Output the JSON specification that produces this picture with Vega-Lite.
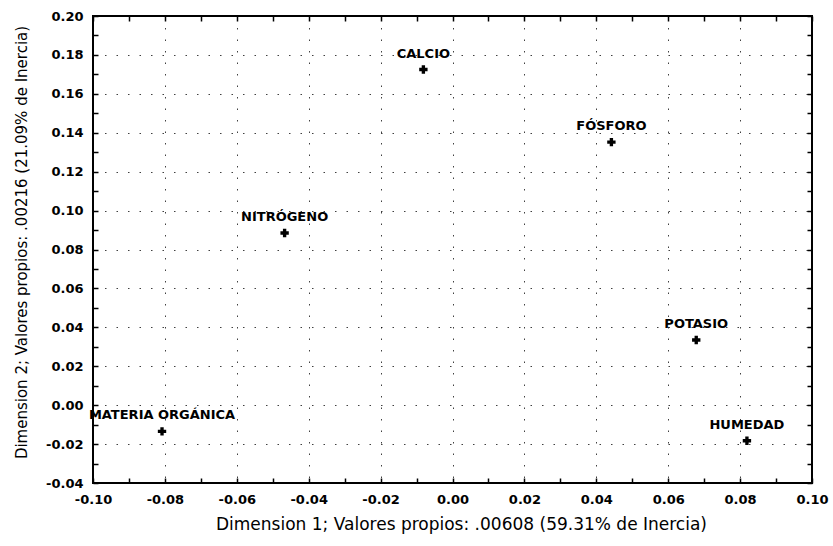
{
  "$schema": "https://vega.github.io/schema/vega-lite/v6.json",
  "autosize": {"type": "none"},
  "width": 719,
  "height": 467,
  "padding": {"left": 93, "top": 16, "right": 21, "bottom": 63},
  "background": "white",
  "config": {
    "view": {"stroke": "black", "strokeWidth": 2},
    "font": "DejaVu Sans"
  },
  "data": {
    "values": [
      {"variable": "CALCIO", "dim1": -0.0081, "dim2": 0.1725},
      {"variable": "FÓSFORO", "dim1": 0.0442, "dim2": 0.1352},
      {"variable": "NITRÓGENO", "dim1": -0.0467, "dim2": 0.0885},
      {"variable": "MATERIA ORGÁNICA", "dim1": -0.0808, "dim2": -0.0135},
      {"variable": "POTASIO", "dim1": 0.0678, "dim2": 0.0335},
      {"variable": "HUMEDAD", "dim1": 0.0819, "dim2": -0.0183}
    ]
  },
  "resolve": {"axis": {"x": "independent", "y": "independent"}},
  "layer": [
    {
      "mark": {"type": "point", "shape": "cross", "filled": true, "color": "black", "size": 70, "opacity": 1},
      "encoding": {
        "x": {
          "field": "dim1", "type": "quantitative",
          "scale": {"domain": [-0.1, 0.1], "nice": false, "zero": false},
          "axis": {
            "orient": "bottom",
            "title": "Dimension 1; Valores propios: .00608 (59.31% de Inercia)",
            "titleFont": "DejaVu Sans", "titleFontSize": 17, "titleFontWeight": "normal", "titleColor": "black",
            "titlePadding": 10, "titleX": 368,
            "values": [-0.1, -0.09, -0.08, -0.07, -0.06, -0.05, -0.04, -0.03, -0.02, -0.01, 0, 0.01, 0.02, 0.03, 0.04, 0.05, 0.06, 0.07, 0.08, 0.09, 0.1],
            "labelExpr": "abs(round(datum.value*100)) % 2 == 0 ? replace(format(datum.value, '.2f'), '−', '-') : ''",
            "labelFont": "DejaVu Sans", "labelFontSize": 13, "labelFontWeight": "bold", "labelColor": "black",
            "labelPadding": 15, "labelFlush": false, "labelOverlap": false,
            "ticks": true, "tickSize": -5, "tickColor": "black", "tickWidth": 1.5,
            "domain": false,
            "grid": true, "gridColor": "black", "gridDash": [1.5, 10], "gridWidth": 1,
            "gridOpacity": {"condition": {"test": "abs(round(datum.value*100)) % 2 == 0", "value": 0.75}, "value": 0}
          }
        },
        "y": {
          "field": "dim2", "type": "quantitative",
          "scale": {"domain": [-0.04, 0.2], "nice": false, "zero": false},
          "axis": {
            "orient": "left",
            "title": "Dimension 2; Valores propios: .00216 (21.09% de Inercia)",
            "titleFont": "DejaVu Sans", "titleFontSize": 15, "titleFontWeight": "normal", "titleColor": "black",
            "titlePadding": 16, "titleY": 226,
            "values": [-0.04, -0.03, -0.02, -0.01, 0, 0.01, 0.02, 0.03, 0.04, 0.05, 0.06, 0.07, 0.08, 0.09, 0.1, 0.11, 0.12, 0.13, 0.14, 0.15, 0.16, 0.17, 0.18, 0.19, 0.2],
            "labelExpr": "abs(round(datum.value*100)) % 2 == 0 ? replace(format(datum.value, '.2f'), '−', '-') : ''",
            "labelFont": "DejaVu Sans", "labelFontSize": 13, "labelFontWeight": "bold", "labelColor": "black",
            "labelPadding": 15, "labelFlush": false, "labelOverlap": false,
            "ticks": true, "tickSize": -5, "tickColor": "black", "tickWidth": 1.5,
            "domain": false,
            "grid": true, "gridColor": "black", "gridDash": [1.5, 10], "gridWidth": 1,
            "gridOpacity": {"condition": {"test": "abs(round(datum.value*100)) % 2 == 0", "value": 0.75}, "value": 0}
          }
        }
      }
    },
    {
      "mark": {"type": "text", "dy": -16, "align": "center", "baseline": "middle", "font": "DejaVu Sans", "fontWeight": "bold", "fontSize": 13, "color": "black"},
      "encoding": {
        "x": {
          "field": "dim1", "type": "quantitative",
          "scale": {"domain": [-0.1, 0.1], "nice": false, "zero": false},
          "axis": {
            "orient": "top", "title": null, "labels": false, "domain": false, "grid": false,
            "values": [-0.1, -0.09, -0.08, -0.07, -0.06, -0.05, -0.04, -0.03, -0.02, -0.01, 0, 0.01, 0.02, 0.03, 0.04, 0.05, 0.06, 0.07, 0.08, 0.09, 0.1],
            "ticks": true, "tickSize": -5, "tickColor": "black", "tickWidth": 1.5
          }
        },
        "y": {
          "field": "dim2", "type": "quantitative",
          "scale": {"domain": [-0.04, 0.2], "nice": false, "zero": false},
          "axis": {
            "orient": "right", "title": null, "labels": false, "domain": false, "grid": false,
            "values": [-0.04, -0.03, -0.02, -0.01, 0, 0.01, 0.02, 0.03, 0.04, 0.05, 0.06, 0.07, 0.08, 0.09, 0.1, 0.11, 0.12, 0.13, 0.14, 0.15, 0.16, 0.17, 0.18, 0.19, 0.2],
            "ticks": true, "tickSize": -5, "tickColor": "black", "tickWidth": 1.5
          }
        },
        "text": {"field": "variable", "type": "nominal"}
      }
    }
  ]
}
